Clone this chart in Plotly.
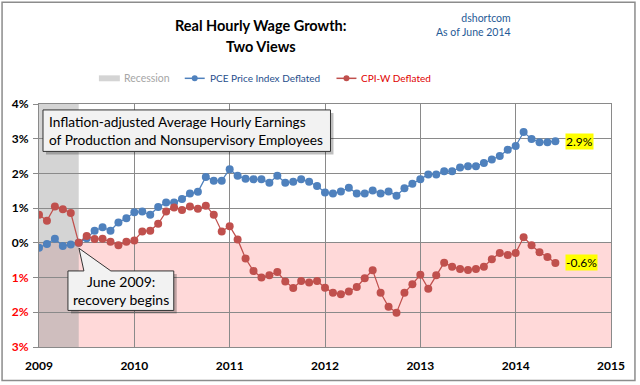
import plotly.graph_objects as go

# ---------------- data ----------------
years = [2009, 2010, 2011, 2012, 2013, 2014]
months = [f"{y}-{m:02d}" for y in years for m in range(1, 13)][:66]

pce = [
    -0.14, -0.03, 0.12, -0.09, -0.05, 0.00, 0.13, 0.35, 0.45, 0.35, 0.59, 0.71,
    0.88, 0.90, 0.81, 1.03, 1.16, 1.16, 1.26, 1.42, 1.47, 1.90, 1.79, 1.79,
    2.12, 1.93, 1.85, 1.83, 1.83, 1.73, 1.93, 1.73, 1.76, 1.83, 1.76, 1.64,
    1.45, 1.42, 1.48, 1.59, 1.42, 1.42, 1.51, 1.42, 1.48, 1.36, 1.57, 1.70,
    1.83, 1.97, 1.97, 2.06, 2.06, 2.17, 2.21, 2.21, 2.30, 2.40, 2.50, 2.68,
    2.79, 3.19, 2.99, 2.90, 2.90, 2.93,
]
cpiw = [
    0.81, 0.64, 1.05, 0.97, 0.86, 0.00, 0.20, 0.11, 0.12, 0.03, -0.07, 0.03,
    0.07, 0.33, 0.35, 0.55, 0.90, 1.02, 0.95, 1.05, 0.98, 1.07, 0.81, 0.33,
    0.48, 0.10, -0.45, -0.81, -1.00, -0.93, -0.84, -1.11, -1.30, -1.10, -1.14, -1.10,
    -1.29, -1.44, -1.48, -1.40, -1.27, -1.02, -0.79, -1.44, -1.84, -2.01, -1.44, -1.19,
    -0.92, -1.32, -0.93, -0.57, -0.69, -0.75, -0.78, -0.75, -0.69, -0.47, -0.29, -0.35,
    -0.29, 0.16, -0.07, -0.27, -0.41, -0.58,
]
x_ticks = [2009, 2010, 2011, 2012, 2013, 2014, 2015]
y_ticks = [-3, -2, -1, 0, 1, 2, 3, 4]
y_tick_labels = ["3%", "2%", "1%", "0%", "1%", "2%", "3%", "4%"]
recession = ("2009-01", "2009-06")
last_labels = ["2.9%", "-0.6%"]

def to_num(s):
    y, m = s.split("-")
    return int(y) + (int(m) - 1) / 12

xs = [to_num(m) for m in months]

BLUE = "#4F81BD"
RED = "#C0504D"
FONT = "Lato"

# plot-area pixel geometry (for decorations)
L, R, T, B = 38, 29, 104, 35
W, H = 640, 385
PW, PH = W - L - R, H - T - B

def px(x):
    return (x - L) / PW

def py(y):
    return (H - B - y) / PH

fig = go.Figure()

fig.add_trace(go.Scatter(x=xs, y=pce, mode="lines+markers", name="PCE Price Index Deflated",
                         line=dict(color=BLUE, width=1.25), marker=dict(color=BLUE, size=8),
                         showlegend=False))
fig.add_trace(go.Scatter(x=xs, y=cpiw, mode="lines+markers", name="CPI-W Deflated",
                         line=dict(color=RED, width=1.25), marker=dict(color=RED, size=8),
                         showlegend=False))

shapes = []
shapes.append(dict(type="rect", xref="x", yref="y", x0=x_ticks[0], x1=x_ticks[-1], y0=-3, y1=0,
                   fillcolor="#FFD9D9", line=dict(width=0), layer="below"))
rx0 = to_num(recession[0])
rx1 = to_num(recession[1])
shapes.append(dict(type="rect", xref="x", yref="y", x0=rx0, x1=rx1, y0=0, y1=4,
                   fillcolor="#D4D4D4", line=dict(width=0), layer="below"))
shapes.append(dict(type="rect", xref="x", yref="y", x0=rx0, x1=rx1, y0=-3, y1=0,
                   fillcolor="#CFBEBE", line=dict(width=0), layer="below"))

# outer border
shapes.append(dict(type="rect", xref="paper", yref="paper", x0=px(1), x1=px(635), y0=py(384), y1=py(1),
                   line=dict(color="#8C8C8C", width=1.5), fillcolor="rgba(0,0,0,0)"))

# text box top-left (shadow + box)
shapes.append(dict(type="rect", xref="paper", yref="paper", x0=px(45), x1=px(333), y0=py(155), y1=py(113),
                   fillcolor="rgba(0,0,0,0.25)", line=dict(width=0)))
shapes.append(dict(type="rect", xref="paper", yref="paper", x0=px(42), x1=px(330), y0=py(152), y1=py(110),
                   fillcolor="#F2F2F2", line=dict(color="#333333", width=1)))

# callout box with pointer
def cpath(dx=0, dy=0):
    pts = [(67 + dx, 273 + dy), (83 + dx, 273 + dy), (78, 250), (110 + dx, 273 + dy),
           (173 + dx, 273 + dy), (173 + dx, 313 + dy), (67 + dx, 313 + dy)]
    return "M " + " L ".join(f"{px(a):.5f},{py(b):.5f}" for a, b in pts) + " Z"

shapes.append(dict(type="path", xref="paper", yref="paper", path=cpath(3, 3),
                   fillcolor="rgba(0,0,0,0.25)", line=dict(width=0)))
shapes.append(dict(type="path", xref="paper", yref="paper", path=cpath(),
                   fillcolor="#F2F2F2", line=dict(color="#333333", width=1)))

# legend
shapes.append(dict(type="rect", xref="paper", yref="paper", x0=px(98), x1=px(119), y0=py(81), y1=py(75),
                   fillcolor="#D4D4D4", line=dict(width=0)))
shapes.append(dict(type="line", xref="paper", yref="paper", x0=px(184), x1=px(204), y0=py(78), y1=py(78),
                   line=dict(color=BLUE, width=1.5)))
shapes.append(dict(type="circle", xref="paper", yref="paper", x0=px(191), x1=px(197), y0=py(81), y1=py(75),
                   fillcolor=BLUE, line=dict(width=0)))
shapes.append(dict(type="line", xref="paper", yref="paper", x0=px(336), x1=px(356), y0=py(78), y1=py(78),
                   line=dict(color=RED, width=1.5)))
shapes.append(dict(type="circle", xref="paper", yref="paper", x0=px(343), x1=px(349), y0=py(81), y1=py(75),
                   fillcolor=RED, line=dict(width=0)))

ann = []
def text(x, y, t, size=13, color="#000", xanchor="center", bold=False, align="center"):
    ann.append(dict(xref="paper", yref="paper", x=px(x), y=py(y), text=t, showarrow=False,
                    xanchor=xanchor, yanchor="middle", align=align,
                    font=dict(family=FONT, size=size, color=color, weight="bold" if bold else "normal")))

text(260, 25, "Real Hourly Wage Growth:", size=14.5, bold=True)
text(260, 46, "Two Views", size=14.5, bold=True)
ann.append(dict(xref="paper", yref="paper", x=px(513), y=py(24), text="dshortcom<br>As of June 2014",
                showarrow=False, xanchor="right", yanchor="middle", align="right",
                font=dict(family=FONT, size=10.5, color="#1F5A96")))
text(121, 78, "Recession", size=10.5, color="#A6A6A6", xanchor="left")
text(207, 78, "PCE Price Index Deflated", size=10, color="#1F4E8C", xanchor="left")
text(359, 78, "CPI-W Deflated", size=10, color="#E00000", xanchor="left")
ann.append(dict(xref="paper", yref="paper", x=px(46), y=py(131),
                text="Inflation-adjusted Average Hourly Earnings<br>of Production and Nonsupervisory Employees",
                showarrow=False, xanchor="left", yanchor="middle", align="left",
                font=dict(family=FONT, size=13.7, color="#000")))
text(120, 293, "June 2009:<br>recovery begins", size=14)

# last value labels
for val, lab in ((pce[-1], last_labels[0]), (cpiw[-1], last_labels[1])):
    ann.append(dict(x=xs[-1], y=val, xref="x", yref="y", text=lab, showarrow=False,
                    xanchor="left", yanchor="middle", xshift=10, bgcolor="#FFFF00", borderpad=0,
                    font=dict(family=FONT, size=12, color="#000")))

ticktext = [f"<span style='color:#FF0000'>{t}</span>" if v < 0 else t
            for v, t in zip(y_ticks, y_tick_labels)]

fig.update_layout(
    width=W, height=H, margin=dict(l=L, r=R, t=T, b=B),
    paper_bgcolor="white", plot_bgcolor="white",
    shapes=shapes, annotations=ann, hovermode=False,
    xaxis=dict(range=[x_ticks[0], x_ticks[-1]], tickvals=x_ticks, ticktext=[str(v) for v in x_ticks],
               showgrid=True, gridcolor="#8A8A8A", gridwidth=1, zeroline=False,
               showline=True, linecolor="#8A8A8A", mirror=True, ticks="", ticklabelstandoff=8,
               tickfont=dict(family=FONT, size=12, color="#000", weight="bold")),
    yaxis=dict(range=[-3, 4], tickvals=y_ticks, ticktext=ticktext,
               showgrid=True, gridcolor="#8A8A8A", gridwidth=1, zeroline=False,
               showline=True, linecolor="#8A8A8A", mirror=True, ticks="outside", ticklen=5,
               tickcolor="#8A8A8A", ticklabelstandoff=2,
               tickfont=dict(family=FONT, size=12, color="#000", weight="bold")),
)

fig.write_html("out.html", config={"displayModeBar": False},
               post_script="document.body.style.margin='0';document.body.style.padding='0';")
